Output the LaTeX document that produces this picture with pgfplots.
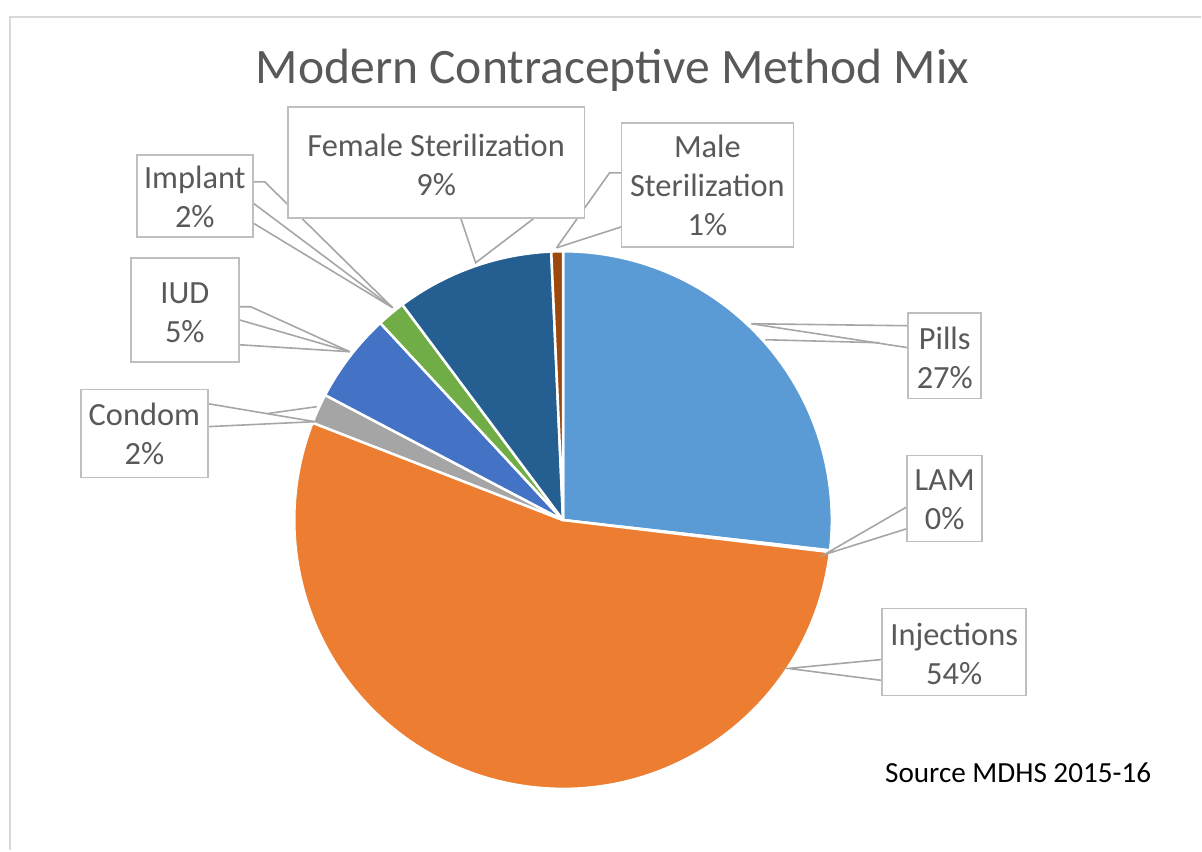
\documentclass[border=0pt]{standalone}
\usepackage{pgfplots}
\pgfplotsset{compat=1.18}
\usepackage{pgfplotstable}
\usepackage{fontspec}
\setmainfont{Carlito}

\definecolor{cPills}{HTML}{5B9BD5}
\definecolor{cLAM}{HTML}{FFC000}
\definecolor{cInj}{HTML}{ED7D31}
\definecolor{cCondom}{HTML}{A5A5A5}
\definecolor{cIUD}{HTML}{4472C4}
\definecolor{cImplant}{HTML}{70AD47}
\definecolor{cFS}{HTML}{255E91}
\definecolor{cMS}{HTML}{9E480E}
\definecolor{labc}{HTML}{595959}
\definecolor{boxc}{HTML}{BFBFBF}
\definecolor{linec}{HTML}{A6A6A6}
\definecolor{framec}{HTML}{D9D9D9}

\pgfplotstableread{
name value color
Pills 26.8 cPills
LAM 0.1 cLAM
Injections 54.0 cInj
Condom 1.8 cCondom
IUD 5.4 cIUD
Implant 1.7 cImplant
FemaleSterilization 9.5 cFS
MaleSterilization 0.7 cMS
}\piedata

\begin{document}
\begin{tikzpicture}
\begin{axis}[
  width=601pt, height=425.5pt, scale only axis,
  xmin=0, xmax=1202, ymin=0, ymax=851, y dir=reverse,
  hide axis, clip=false,
]
\path (axis cs:0,0) (axis cs:1202,851);
% frame
\draw[framec, line width=1pt] (axis cs:10,851) -- (axis cs:10,17.5) -- (axis cs:1202,17.5);
% pie
\pgfplotstablegetrowsof{\piedata}
\pgfmathtruncatemacro\lastrow{\pgfplotsretval-1}
\def\cum{0}
\pgfplotsforeachungrouped \i in {0,...,\lastrow}{%
  \pgfplotstablegetelem{\i}{value}\of\piedata \let\v\pgfplotsretval
  \pgfplotstablegetelem{\i}{color}\of\piedata \let\c\pgfplotsretval
  \pgfmathsetmacro\a{90-\cum*3.6}%
  \pgfmathsetmacro\b{90-(\cum+\v)*3.6}%
  \edef\temp{\noexpand\fill[\c, draw=white, line width=1.25pt, line join=round] (axis cs:563.5,520.5) -- ++(\a:134.5pt) arc[start angle=\a, end angle=\b, radius=134.5pt] -- cycle;}%
  \temp
  \pgfmathsetmacro\cum{\cum+\v}%
}
% leader lines
\begin{scope}[linec, line width=0.8pt]
\draw (axis cs:253,182) -- (axis cs:265,182) -- (axis cs:393,308);
\draw (axis cs:253,203) -- (axis cs:393,308);
\draw (axis cs:253,223) -- (axis cs:393,308);
\draw (axis cs:239,307) -- (axis cs:251,307) -- (axis cs:350,352);
\draw (axis cs:239,320) -- (axis cs:350,352);
\draw (axis cs:239,345) -- (axis cs:350,352);
\draw (axis cs:208,404) -- (axis cs:315,422);
\draw (axis cs:208,427) -- (axis cs:315,422);
\draw (axis cs:267,414) -- (axis cs:317,407);
\draw (axis cs:461,218) -- (axis cs:476,263) -- (axis cs:535,218);
\draw (axis cs:622,173) -- (axis cs:610,173) -- (axis cs:557,248);
\draw (axis cs:622,227) -- (axis cs:557,248);
\draw (axis cs:909,326) -- (axis cs:752,324);
\draw (axis cs:909,348) -- (axis cs:752,324);
\draw (axis cs:766,340) -- (axis cs:880,343);
\draw (axis cs:908,507) -- (axis cs:825,555) -- (axis cs:908,529);
\draw (axis cs:883,660) -- (axis cs:789,669) -- (axis cs:883,681);
\end{scope}
% boxes
\begin{scope}[draw=boxc, fill=white, line width=0.8pt]
\filldraw (axis cs:137,155) rectangle (axis cs:253,237);
\filldraw (axis cs:288,107) rectangle (axis cs:585,218);
\filldraw (axis cs:622,123) rectangle (axis cs:794,247);
\filldraw (axis cs:131,258) rectangle (axis cs:239,362);
\filldraw (axis cs:81,390) rectangle (axis cs:208,478);
\filldraw (axis cs:909,313) rectangle (axis cs:982,399);
\filldraw (axis cs:908,456) rectangle (axis cs:983,542);
\filldraw (axis cs:883,609) rectangle (axis cs:1027,696);
\end{scope}
\begin{scope}[every node/.style={text=labc, align=center, inner sep=0pt, font=\fontsize{16.2}{19.5}\selectfont}]
\node at (axis cs:195,197) {Implant\\2\%};
\node at (axis cs:436.5,165) {Female Sterilization\\9\%};
\node at (axis cs:708,186) {Male\\Sterilization\\1\%};
\node at (axis cs:185,313) {IUD\\5\%};
\node at (axis cs:144.5,434) {Condom\\2\%};
\node at (axis cs:945.5,358) {Pills\\27\%};
\node at (axis cs:945.5,500) {LAM\\0\%};
\node at (axis cs:955,654) {Injections\\54\%};
\end{scope}
\node[text=labc, inner sep=0pt, font=\fontsize{24.8}{28}\selectfont] at (axis cs:613,70) {Modern Contraceptive Method Mix};
\node[text=black, inner sep=0pt, font=\fontsize{14.6}{17}\selectfont] at (axis cs:1019,773) {Source MDHS 2015-16};
\end{axis}
\end{tikzpicture}
\end{document}
